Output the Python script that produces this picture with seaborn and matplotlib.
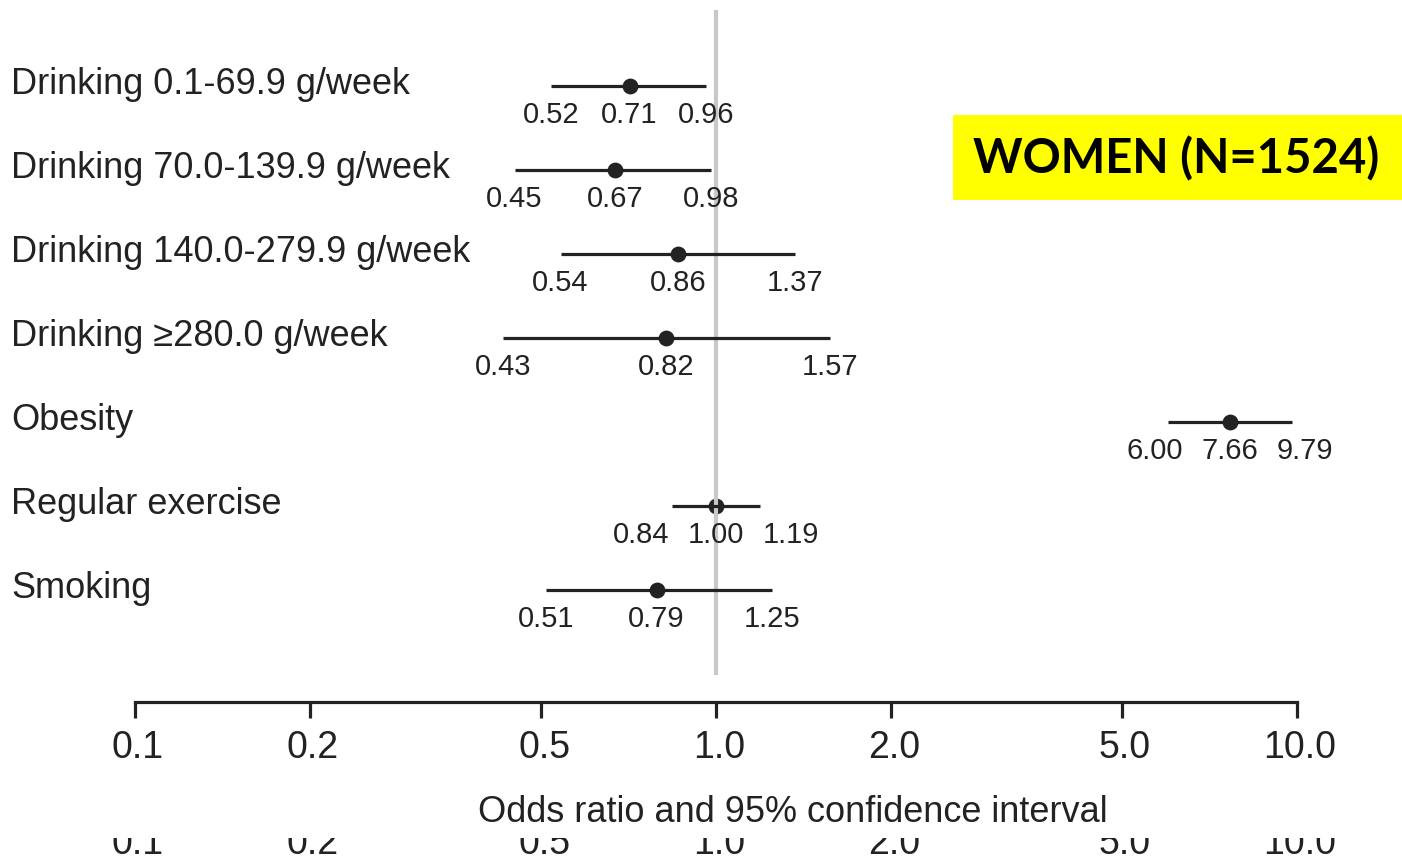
import numpy as np
import pandas as pd
import matplotlib
matplotlib.use("Agg")
import matplotlib.pyplot as plt
from matplotlib.patches import Rectangle
from matplotlib.transforms import ScaledTranslation
import seaborn as sns

# Odds ratios with 95% confidence limits
factors = [
    "Drinking 0.1-69.9 g/week",
    "Drinking 70.0-139.9 g/week",
    "Drinking 140.0-279.9 g/week",
    "Drinking \u2265280.0 g/week",
    "Obesity",
    "Regular exercise",
    "Smoking",
]
odds_ratio = [0.71, 0.67, 0.86, 0.82, 7.66, 1.00, 0.79]
ci_lower = [0.52, 0.45, 0.54, 0.43, 6.00, 0.84, 0.51]
ci_upper = [0.96, 0.98, 1.37, 1.57, 9.79, 1.19, 1.25]
tick_values = [0.1, 0.2, 0.5, 1.0, 2.0, 5.0, 10.0]
tick_labels = ["0.1", "0.2", "0.5", "1.0", "2.0", "5.0", "10.0"]
panel_title = "WOMEN (N=1524)"

df = pd.DataFrame({"factor": factors, "or": odds_ratio,
                   "lo": ci_lower, "hi": ci_upper})
df["row"] = np.arange(len(df))

sns.set_style("white")
plt.rcParams["font.family"] = ["Liberation Sans", "DejaVu Sans"]

W, H = 1402, 857
fig = plt.figure(figsize=(W / 100, H / 100), dpi=100)
ax = fig.add_axes([135 / W, 1 - 702 / H, 1162 / W, 692 / H])
ax.set_xscale("log")
ax.set_xlim(0.1, 10)
ax.set_ylim(7.333, -0.905)

ink = "#222222"

# reference line at OR = 1
ax.vlines(1.0, -0.905, 7.012, color="#c8c8c8", lw=3, zorder=4)

# confidence intervals and point estimates
ax.hlines(df["row"], df["lo"], df["hi"], color=ink, lw=2.3, zorder=5)
sns.scatterplot(data=df, x="or", y="row", ax=ax, color=ink, s=130,
                edgecolor=ink, linewidth=0, zorder=3, legend=False)

# numeric labels under each interval, kept apart from the estimate
min_gap = 10 ** 0.129
for _, r in df.iterrows():
    xs = [min(r["lo"], r["or"] / min_gap), r["or"], max(r["hi"], r["or"] * min_gap)]
    for xv, val in zip(xs, [r["lo"], r["or"], r["hi"]]):
        ax.text(xv, r["row"] + 0.35, f"{val:.2f}", ha="center", va="center",
                fontsize=21, color=ink, zorder=6)
    # factor names on the left
    fig.text(11 / W, 1 - (86 + 84 * r["row"] - 2) / H, r["factor"],
             ha="left", va="center", fontsize=26, color=ink)

# axis styling
for side in ["left", "top", "right"]:
    ax.spines[side].set_visible(False)
ax.spines["bottom"].set_linewidth(2.3)
ax.spines["bottom"].set_color(ink)
ax.set_yticks([])
ax.set_xticks(tick_values)
ax.set_xticklabels(tick_labels)
ax.xaxis.set_minor_locator(matplotlib.ticker.NullLocator())
ax.tick_params(axis="x", direction="out", length=11.5, width=2.3, color=ink,
               labelsize=27, labelcolor=ink, pad=9, bottom=True)
shift = ScaledTranslation(3 / 100, 0, fig.dpi_scale_trans)
for lab in ax.get_xticklabels():
    lab.set_transform(lab.get_transform() + shift)
ax.set_xlabel("")
ax.set_ylabel("")

# axis title
fig.text(793 / W, 1 - 812 / H,
         "Odds ratio and 95% confidence interval",
         ha="center", va="center", fontsize=26, color=ink, zorder=6)

# repeated scale along the lower edge, partly masked
for tv, tl in zip(tick_values, tick_labels):
    xp = 135 + 581 * np.log10(tv / 0.1)
    fig.text((xp + 3) / W, 1 - 854 / H, tl, ha="center", va="baseline",
             fontsize=27, color=ink, zorder=2)
fig.patches.append(Rectangle((0, 1 - 838 / H), 1, (838 - 770) / H,
                             transform=fig.transFigure, facecolor="white",
                             edgecolor="none", zorder=3))

# highlighted panel title
fig.patches.append(Rectangle((953 / W, 1 - 200 / H), (W - 953) / W, 85 / H,
                             transform=fig.transFigure, facecolor="#ffff00",
                             edgecolor="none", zorder=3))
fig.text(1176 / W, 1 - 159 / H, panel_title, ha="center", va="center",
         fontsize=34, fontweight="bold", family=["Lato", "DejaVu Sans"],
         color="black", zorder=4)

fig.savefig("out.png", dpi=100, facecolor="white")
